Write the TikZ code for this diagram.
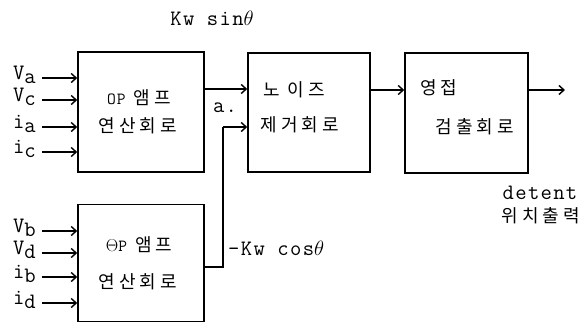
\documentclass[tikz,border=0pt]{standalone}
\usepackage{fontspec}
\setmonofont{Latin Modern Mono}[LetterSpace=6]
\newfontfamily\kor[LetterSpace=22]{Noto Sans CJK KR}
\usetikzlibrary{arrows.meta}
\tikzset{
  blk/.style={draw, line width=1.5pt, inner sep=0pt},
  arr/.style={line width=1.4pt, -{Straight Barb[length=5pt,width=9pt,line width=1.4pt]}},
  wire/.style={line width=1.4pt},
  kt/.style={font=\kor\fontsize{18}{20}\selectfont, inner sep=0pt},
  lt/.style={font=\ttfamily\fontsize{22}{24}\selectfont, inner sep=0pt},
}
\newcommand{\sublab}[2]{#1\raisebox{-4pt}{#2}}
\begin{document}
\begin{tikzpicture}[x=1pt,y=-1pt]
\useasboundingbox (0,0) rectangle (586,324);
% boxes
\node[blk, minimum width=126pt, minimum height=120pt] (op1) at (141,112) {};
\node[blk, minimum width=126pt, minimum height=117pt] (op2) at (141,263) {};
\node[blk, minimum width=122pt, minimum height=119pt] (nr) at (309,112.5) {};
\node[blk, minimum width=123pt, minimum height=120pt] (det) at (466.5,113) {};
% box texts
\node[kt] (t1a) at (139,98) {{\ttfamily\fontsize{17}{19}\selectfont OP} 앰프};
\node[kt] (t1b) at (138,126) {연산회로};
\node[kt] (t2a) at (139,245) {{\ttfamily\fontsize{17}{19}\selectfont $\Theta$P} 앰프};
\node[kt] (t2b) at (138,282) {연산회로};
\node[kt] (t3a) at (294,90) {노 이즈};
\node[kt] (t3b) at (300,125) {제거회로};
\node[kt] (t4a) at (439,88) {영접};
\node[kt] (t4b) at (475,127) {검출회로};
% other labels
\node[lt] (ks) at (212,18) {Kw sin$\theta$};
\node[lt] (aa) at (225,108) {a.};
\node[lt, anchor=west] (kc) at (228,248) {-Kw cos$\theta$};
\node[lt] (dt) at (540,193) {detent};
\node[kt] (wc) at (541,216) {위치출력};
% input labels and arrows
\foreach \n/\l/\s/\y in {va/V/a/78, vc/V/c/100, ia/i/a/127, ic/i/c/152,
                         vb/V/b/231, vd/V/d/253, ib/i/b/277, id/i/d/303}{
  \node[lt, anchor=east] (L\n) at (36,\y-3) {\sublab{\l}{\s}};
  \coordinate (S\n) at (42,\y);
}
\foreach \n/\y in {va/78, vc/100, ia/127, ic/152}{
  \draw[arr] (S\n) -- (S\n -| op1.west);
}
\foreach \n/\y in {vb/231, vd/253, ib/277, id/303}{
  \draw[arr] (S\n) -- (S\n -| op2.west);
}
% connectors
\coordinate (o1) at (204,89);
\draw[arr] (o1) -- (o1 -| nr.west);
\coordinate (o2) at (204,267);
\coordinate (j) at (223,267);
\coordinate (j2) at (223,127);
\draw[wire] (o2) -- (j) -- (j2);
\draw[arr] (j2) -- (j2 -| nr.west);
\coordinate (o3) at (370,90);
\draw[arr] (o3) -- (o3 -| det.west);
\coordinate (o4) at (528,90);
\coordinate (e4) at (565,90);
\draw[arr] (o4) -- (e4);
\end{tikzpicture}
\end{document}
